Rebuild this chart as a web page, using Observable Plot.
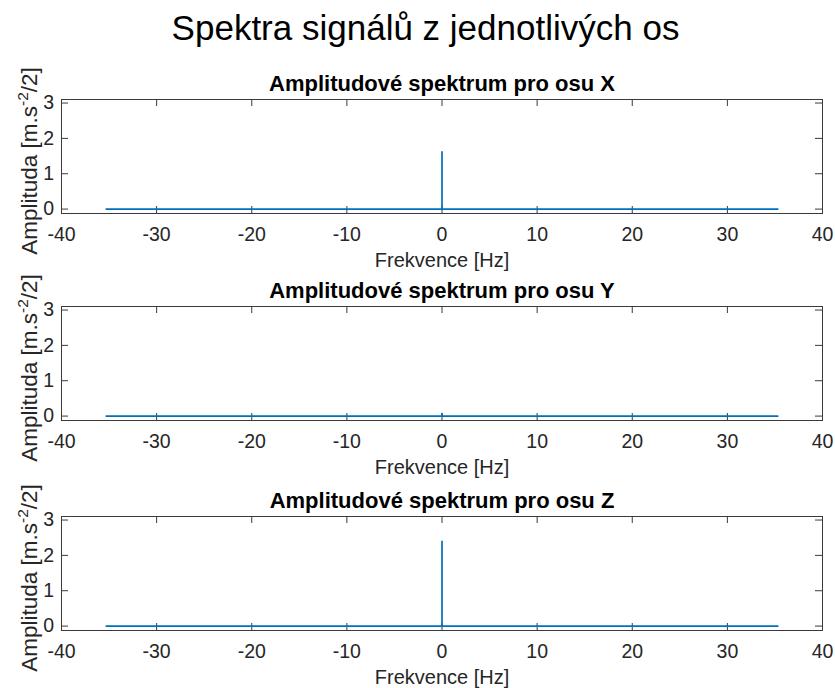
<!DOCTYPE html>
<html>
<head>
<meta charset="utf-8">
<script src="https://cdn.jsdelivr.net/npm/d3@7"></script>
<script src="https://cdn.jsdelivr.net/npm/@observablehq/plot@0.6"></script>
<style>
  html, body { margin: 0; padding: 0; background: #fff; }
  #page { position: relative; width: 835px; height: 688px; font-family: "Liberation Sans", Arial, sans-serif; }
  #title { position: absolute; left: 8px; width: 835px; top: 10px; line-height: 35px; text-align: center; font-size: 35px; color: #000; white-space: nowrap; }
  .panel { position: absolute; left: 0; }
</style>
</head>
<body>
<div id="page">
  <div id="title">Spektra signálů z jednotlivých os</div>
</div>
<script>
// Spectrum samples per axis: frequency [Hz] and amplitude [m.s^-2/2]
const freqHz = [-35.3, 0, 0, 0, 35.3];
const ampX = [0, 0, 1.62, 0, 0];
const ampY = [0, 0, 0.07, 0, 0];
const ampZ = [0, 0, 2.4, 0, 0];
const panelTitles = ["Amplitudové spektrum pro osu X", "Amplitudové spektrum pro osu Y", "Amplitudové spektrum pro osu Z"];
const xTicks = [-40, -30, -20, -10, 0, 10, 20, 30, 40];
const yTicks = [0, 1, 2, 3];
const xLabel = "Frekvence [Hz]";

const series = [ampX, ampY, ampZ];
const panelTops = [60, 267, 477];
const W = 835;
const mTop = 39, mBottom = 56, mLeft = 61, mRight = 13;
const plotH = 114;
const H = mTop + plotH + mBottom;
const plotW = W - mLeft - mRight;
const axisColor = "#262626";
const frameColor = "#3a3a3a";
const tickLen = 7;
const fmt = d => String(d);

series.forEach((amp, i) => {
  const data = freqHz.map((f, k) => ({f, a: amp[k]}));
  const chart = Plot.plot({
    width: W,
    height: H,
    marginTop: mTop,
    marginBottom: mBottom,
    marginLeft: mLeft,
    marginRight: mRight,
    style: {fontFamily: "'Liberation Sans', Arial, sans-serif", color: axisColor, background: "transparent", overflow: "visible"},
    x: {domain: [-40, 40]},
    y: {domain: [-0.125, 3.1]},
    marks: [
      // inward ticks on all four sides of the box
      Plot.tickX(xTicks, {x: d => d, insetTop: plotH - tickLen, stroke: frameColor, strokeWidth: 1}),
      Plot.tickX(xTicks, {x: d => d, insetBottom: plotH - tickLen, stroke: frameColor, strokeWidth: 1}),
      Plot.tickY(yTicks, {y: d => d, insetRight: plotW - tickLen, stroke: frameColor, strokeWidth: 1}),
      Plot.tickY(yTicks, {y: d => d, insetLeft: plotW - tickLen, stroke: frameColor, strokeWidth: 1}),
      Plot.line(data, {x: "f", y: "a", stroke: "#0072BD", strokeWidth: 1.7}),
      Plot.frame({stroke: frameColor, strokeWidth: 1}),
      Plot.axisX(xTicks, {tickSize: 0, tickPadding: 13.5, fontSize: 19.5, label: null, fill: axisColor, tickFormat: fmt}),
      Plot.axisY(yTicks, {tickSize: 0, tickPadding: 7.5, fontSize: 19.5, label: null, fill: axisColor, tickFormat: fmt}),
      Plot.text([panelTitles[i]], {text: d => d, frameAnchor: "top", lineAnchor: "bottom", dy: -8.7, fontSize: 22, fontWeight: "bold", fill: "#000"}),
      Plot.text([xLabel], {text: d => d, frameAnchor: "bottom", lineAnchor: "bottom", dy: 53, fontSize: 20, fill: axisColor})
    ]
  });
  chart.classList.add("panel");
  chart.style.top = panelTops[i] + "px";
  // rotated y-axis label with a superscript exponent
  const svg = d3.select(chart);
  const cy = mTop + plotH / 2 + 5;
  const t = svg.append("text")
    .attr("transform", `translate(36.7,${cy}) rotate(-90)`)
    .attr("text-anchor", "middle")
    .style("font-size", "22.5px")
    .style("font-family", "'Liberation Sans', Arial, sans-serif")
    .attr("fill", axisColor);
  t.append("tspan").text("Amplituda [m.s");
  t.append("tspan").attr("dy", -9).style("font-size", "15.5px").text("-2");
  t.append("tspan").attr("dy", 9).text("/2]");
  document.getElementById("page").appendChild(chart);
});
</script>
</body>
</html>
